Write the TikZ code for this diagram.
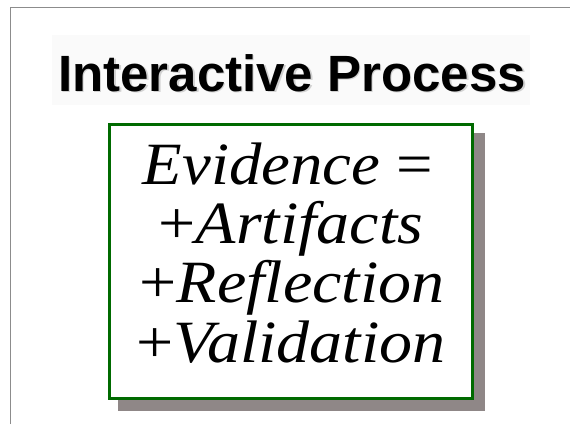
\documentclass[tikz,border=0pt]{standalone}
\usepackage{fontspec}
\setmainfont{Liberation Serif}
\newfontfamily\titlefont{Liberation Sans}
\definecolor{framegray}{HTML}{8C8C8C}
\definecolor{bandgray}{HTML}{FAFAFA}
\definecolor{boxgreen}{HTML}{006A00}
\definecolor{shadowgray}{HTML}{8F8787}
\tikzset{
  titletext/.style={anchor=base west,inner sep=0pt,font=\titlefont\bfseries\fontsize{51}{60}\selectfont},
  eqline/.style={anchor=base,inner sep=0pt,font=\fontsize{60}{66}\selectfont},
}
\newcommand{\eqtxt}[2][1.10]{\scalebox{#1}[1]{#2}}
\begin{document}
\begin{tikzpicture}[x=1pt,y=-1pt]
\useasboundingbox (0,0) rectangle (570,424);
% frame
\draw[framegray,line width=1pt] (10,424) -- (10,7) -- (570,7);
% title band
\fill[bandgray] (52,35) rectangle (530,105);
\node[titletext,text=black!18] (titleshadow) at (59.5,92.5) {Interactive Process};
\node[titletext] (title) at (58,91) {Interactive Process};
% box
\fill[shadowgray] (118,133) rectangle (485,411);
\draw[boxgreen,line width=3pt,fill=white] (109.5,124.5) rectangle (472.5,398.5);
\node[eqline] (l1) at (288,184) {\eqtxt[1.08]{\itshape Evidence\/ \upshape=}};
\node[eqline] (l2) at (291,243) {\eqtxt{+\itshape Artifacts}};
\node[eqline] (l3) at (292,302) {\eqtxt{+\itshape Reflection}};
\node[eqline] (l4) at (291,362) {\eqtxt{+\itshape Validation}};
\end{tikzpicture}
\end{document}
